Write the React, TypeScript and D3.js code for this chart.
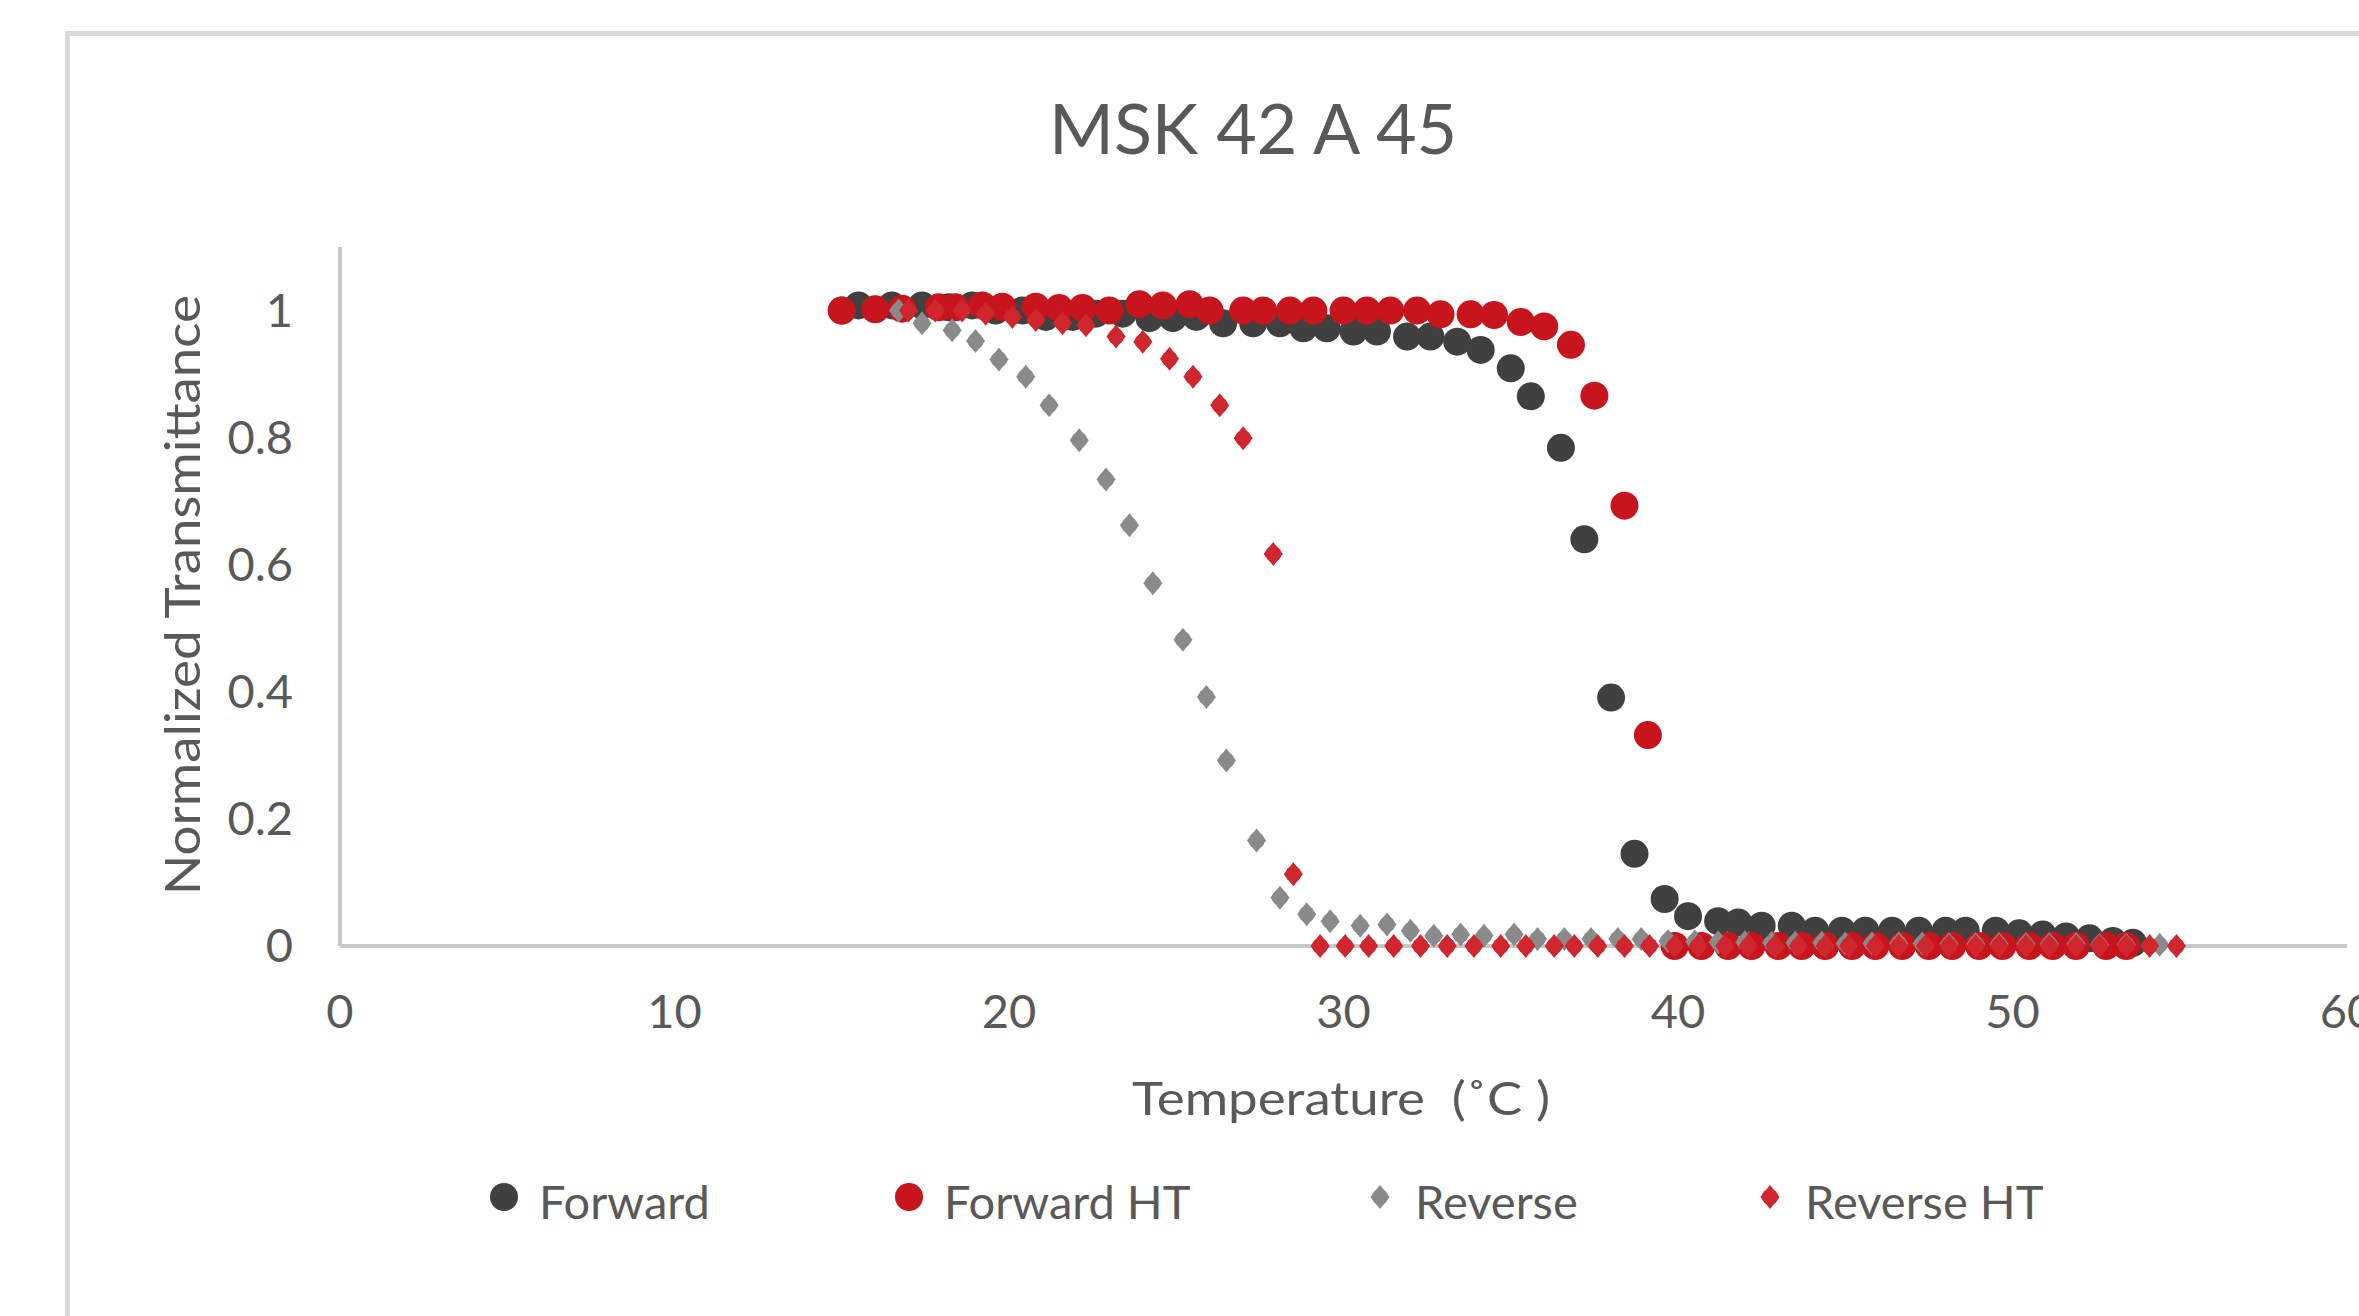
import React from "react";
import * as d3 from "d3";

const WIDTH = 2359;
const HEIGHT = 1316;

const TITLE = "MSK 42 A 45";
const X_LABEL = "Temperature  (˚C )";
const Y_LABEL = "Normalized Transmittance";
const X_TICKS = [0, 10, 20, 30, 40, 50, 60];
const Y_TICKS = [0, 0.2, 0.4, 0.6, 0.8, 1];

// Forward
const forwardT = [15.0, 15.5, 16.5, 17.4, 18.2, 18.9, 19.6, 20.4, 21.1, 21.9, 22.6, 23.4, 24.2, 24.9, 25.6, 26.4, 27.3, 28.1, 28.8, 29.5, 30.3, 31.0, 31.9, 32.6, 33.4, 34.1, 35.0, 35.6, 36.5, 37.2, 38.0, 38.7, 39.6, 40.3, 41.2, 41.8, 42.5, 43.4, 44.1, 44.9, 45.6, 46.4, 47.2, 48.0, 48.6, 49.5, 50.2, 50.9, 51.6, 52.3, 53.0, 53.6];
const forwardV = [1.0, 1.008, 1.008, 1.008, 1.005, 1.008, 1.0, 1.0, 0.99, 0.99, 0.995, 0.995, 0.988, 0.988, 0.99, 0.98, 0.98, 0.98, 0.972, 0.972, 0.967, 0.967, 0.959, 0.959, 0.951, 0.938, 0.909, 0.865, 0.784, 0.64, 0.391, 0.145, 0.074, 0.047, 0.039, 0.037, 0.032, 0.032, 0.024, 0.024, 0.024, 0.024, 0.024, 0.024, 0.024, 0.024, 0.02, 0.018, 0.015, 0.012, 0.008, 0.005];

// Forward HT
const forwardHtT = [15.0, 16.0, 16.8, 17.9, 18.4, 19.2, 19.8, 20.8, 21.5, 22.2, 23.0, 23.9, 24.6, 25.4, 26.0, 27.0, 27.6, 28.4, 29.1, 30.0, 30.7, 31.4, 32.2, 32.9, 33.8, 34.5, 35.3, 36.0, 36.8, 37.5, 38.4, 39.1, 39.9, 40.7, 41.5, 42.2, 43.0, 43.7, 44.4, 45.2, 45.9, 46.7, 47.5, 48.2, 49.0, 49.7, 50.5, 51.2, 51.9, 52.8, 53.4];
const forwardHtV = [1.0, 1.002, 1.003, 1.005, 1.005, 1.008, 1.006, 1.006, 1.004, 1.004, 1.0, 1.01, 1.008, 1.01, 1.0, 1.0, 1.0, 1.0, 1.0, 1.0, 1.0, 1.0, 1.0, 0.994, 0.994, 0.993, 0.982, 0.975, 0.946, 0.866, 0.693, 0.332, 0.0, 0.0, 0.0, 0.0, 0.0, 0.0, 0.0, 0.0, 0.0, 0.0, 0.0, 0.0, 0.0, 0.0, 0.0, 0.0, 0.0, 0.0, 0.0];

// Reverse
const reverseT = [16.7, 17.4, 18.3, 19.0, 19.7, 20.5, 21.2, 22.1, 22.9, 23.6, 24.3, 25.2, 25.9, 26.5, 27.4, 28.1, 28.9, 29.6, 30.5, 31.3, 32.0, 32.7, 33.5, 34.2, 35.1, 35.8, 36.6, 37.4, 38.2, 38.9, 39.7, 40.5, 41.2, 42.0, 42.8, 43.5, 44.3, 45.0, 45.8, 46.6, 47.3, 48.1, 48.9, 49.6, 50.4, 51.1, 51.9, 52.6, 53.4, 54.4];
const reverseV = [1.0, 0.98, 0.969, 0.952, 0.923, 0.896, 0.851, 0.796, 0.734, 0.662, 0.571, 0.482, 0.392, 0.292, 0.166, 0.076, 0.05, 0.039, 0.032, 0.034, 0.024, 0.016, 0.018, 0.016, 0.018, 0.011, 0.011, 0.011, 0.011, 0.011, 0.008, 0.007, 0.006, 0.006, 0.005, 0.005, 0.005, 0.004, 0.004, 0.004, 0.004, 0.003, 0.003, 0.003, 0.003, 0.003, 0.003, 0.002, 0.002, 0.002];

// Reverse HT
const reverseHtT = [17.0, 17.8, 18.6, 19.3, 20.1, 20.8, 21.6, 22.3, 23.2, 24.0, 24.8, 25.5, 26.3, 27.0, 27.9, 28.5, 29.3, 30.05, 30.75, 31.5, 32.3, 33.1, 33.9, 34.7, 35.45, 36.3, 36.9, 37.6, 38.4, 39.15, 39.9, 40.6, 41.4, 42.1, 42.9, 43.6, 44.4, 45.1, 45.9, 46.6, 47.4, 48.1, 48.9, 49.6, 50.4, 51.1, 51.9, 52.6, 53.4, 54.1, 54.9];
const reverseHtV = [1.0, 1.0, 1.0, 0.995, 0.99, 0.985, 0.98, 0.977, 0.959, 0.951, 0.924, 0.896, 0.851, 0.799, 0.617, 0.113, 0.0, 0.0, 0.0, 0.0, 0.0, 0.0, 0.0, 0.0, 0.0, 0.0, 0.0, 0.0, 0.0, 0.0, 0.0, 0.0, 0.0, 0.0, 0.0, 0.0, 0.0, 0.0, 0.0, 0.0, 0.0, 0.0, 0.0, 0.0, 0.0, 0.0, 0.0, 0.0, 0.0, 0.0, 0.0];

const FONT = "Lato, Calibri, sans-serif";
const TEXT = "#595959";

const series = [
  { name: "Forward", t: forwardT, v: forwardV, color: "#404040", shape: "circle", lx: 504 },
  { name: "Forward HT", t: forwardHtT, v: forwardHtV, color: "#c8141c", shape: "circle", lx: 909 },
  { name: "Reverse", t: reverseT, v: reverseV, color: "#8a8a8a", shape: "diamond", lx: 1380 },
  { name: "Reverse HT", t: reverseHtT, v: reverseHtV, color: "#d0262e", shape: "diamond", lx: 1770 },
];

const x = d3.scaleLinear().domain([0, 60]).range([340, 2347]);
const y = d3.scaleLinear().domain([0, 1.1]).range([946, 247]);

// rounded diamond, like Excel's small diamond markers after scaling
const diamond = (r: number) => `M0,${-r}L${r * 0.8},0L0,${r}L${-r * 0.8},0Z`;

function Marker({ shape, color, cx, cy }: { shape: string; color: string; cx: number; cy: number }) {
  if (shape === "circle") return <circle cx={cx} cy={cy} r={14} fill={color} />;
  return (
    <g transform={`translate(${cx},${cy})`} fill={color}>
      <path d={diamond(12)} />
      <circle r={8} />
    </g>
  );
}

export default function App() {
  return (
    <svg
      width={WIDTH}
      height={HEIGHT}
      style={{ position: "absolute", left: 0, top: 0, background: "#fff" }}
      fontFamily={FONT}
    >
      <rect x={67.5} y={33.5} width={2400} height={1400} fill="#fff" stroke="#d9d9d9" strokeWidth={5} />

      <text x={1253} y={154} textAnchor="middle" fontSize={70} fill={TEXT}>
        {TITLE}
      </text>

      {/* axes */}
      <line x1={x(0)} x2={x(0)} y1={y(1.1)} y2={y(0)} stroke="#c8c8c8" strokeWidth={4} />
      <line x1={x(0)} x2={x(60)} y1={y(0)} y2={y(0)} stroke="#c8c8c8" strokeWidth={4} />

      {Y_TICKS.map((t) => (
        <text key={t} x={293} y={y(t) + 16} textAnchor="end" fontSize={47} fill={TEXT}>
          {t}
        </text>
      ))}
      {X_TICKS.map((t) => (
        <text key={t} x={x(t)} y={1028} textAnchor="middle" fontSize={47} fill={TEXT}>
          {t}
        </text>
      ))}

      <text
        x={1132}
        y={1115}
        fontSize={47}
        fill={TEXT}
        xmlSpace="preserve"
        textLength={418}
        lengthAdjust="spacingAndGlyphs"
      >
        {X_LABEL}
      </text>
      <text
        transform="translate(200,895) rotate(-90)"
        fontSize={48}
        fill={TEXT}
        textLength={600}
        lengthAdjust="spacingAndGlyphs"
      >
        {Y_LABEL}
      </text>

      {/* points */}
      {series.map((s) => (
        <g key={s.name}>
          {s.t.map((t, i) => (
            <Marker key={i} shape={s.shape} color={s.color} cx={x(t)} cy={y(s.v[i])} />
          ))}
        </g>
      ))}

      {/* legend */}
      {series.map((s) => (
        <g key={s.name}>
          <Marker shape={s.shape} color={s.color} cx={s.lx} cy={1197} />
          <text x={s.lx + 35} y={1219} fontSize={47} fill={TEXT}>
            {s.name}
          </text>
        </g>
      ))}
    </svg>
  );
}
